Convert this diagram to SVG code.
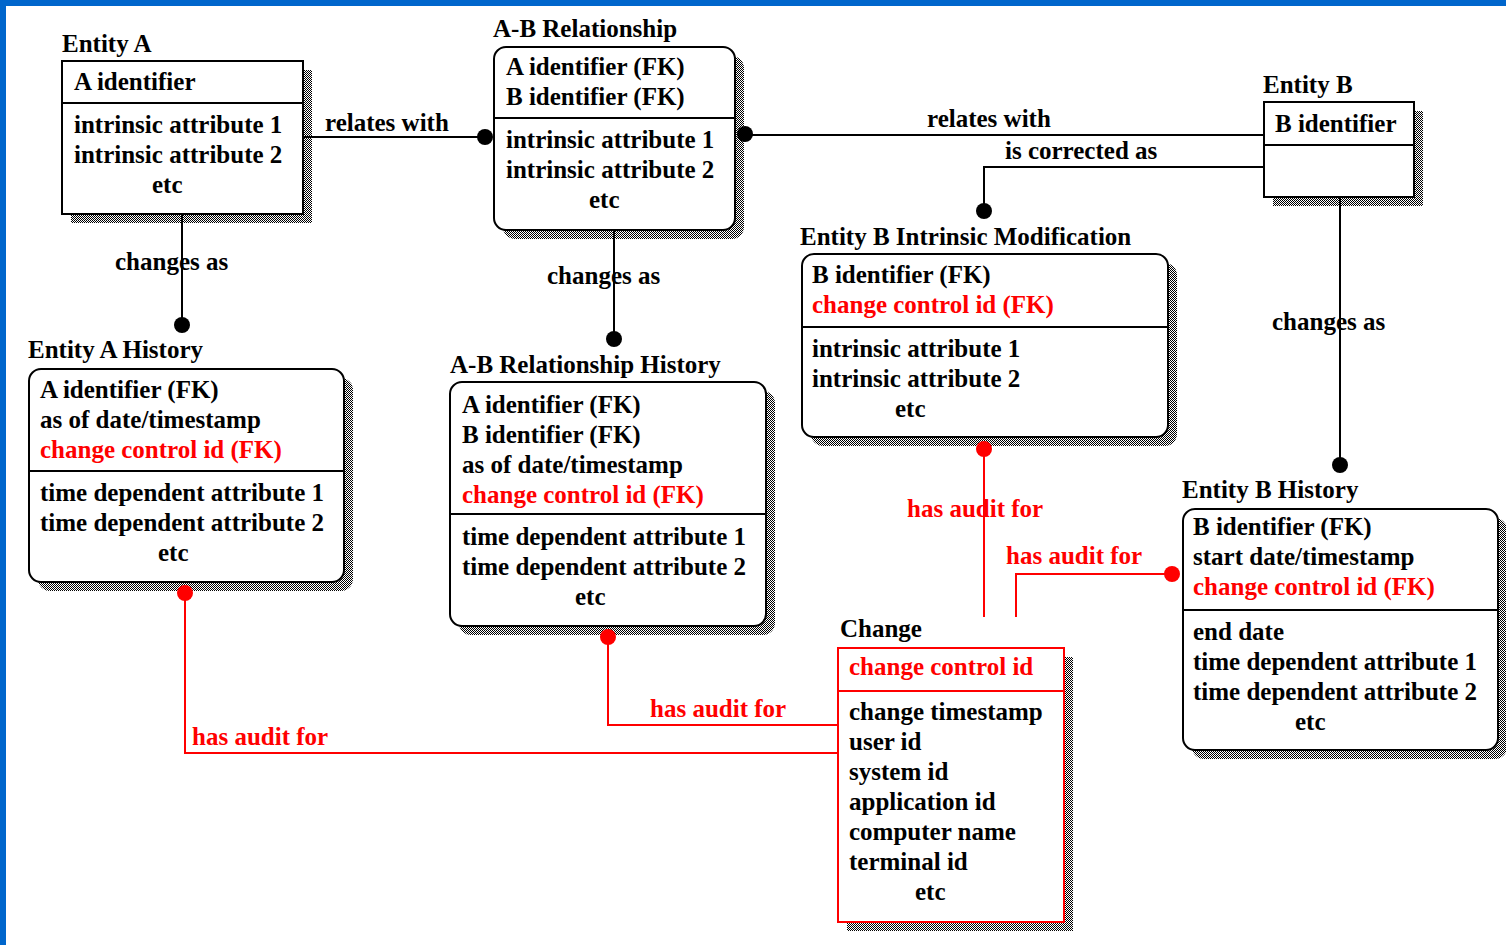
<svg xmlns="http://www.w3.org/2000/svg" width="1506" height="945" viewBox="0 0 1506 945" font-family="Liberation Serif" font-weight="bold" font-size="25">
  <defs>
    <!-- dithered drop shadow -->
    <pattern id="dither" width="2" height="2" patternUnits="userSpaceOnUse">
      <rect width="2" height="2" fill="#ffffff"/>
      <rect x="0" y="0" width="1" height="1" fill="#000000"/>
      <rect x="1" y="1" width="1" height="1" fill="#000000"/>
    </pattern>
    <style>
      text { fill: #000; }
      .red { fill: #ff0000; }
      .box { fill: #ffffff; stroke: #000; stroke-width: 2; }
      .rbox { fill: #ffffff; stroke: #ff0000; stroke-width: 2; }
      .shadow { fill: url(#dither); stroke: none; }
      .div { stroke: #000; stroke-width: 2; fill: none; }
      .rdiv { stroke: #ff0000; stroke-width: 2; fill: none; }
      .line { stroke: #000; stroke-width: 2; fill: none; }
      .rline { stroke: #ff0000; stroke-width: 2; fill: none; }
      .dot { fill: #000; }
      .rdot { fill: #ff0000; }
    </style>
  </defs>

  <!-- page background and frame -->
  <rect x="0" y="0" width="1506" height="945" fill="#ffffff"/>
  <rect x="0" y="0" width="1506" height="6" fill="#0066cc"/>
  <rect x="0" y="0" width="6" height="945" fill="#0066cc"/>

  <!-- Entity A -->
  <g id="entity-a">
    <text x="62" y="52">Entity A</text>
    <rect class="shadow" x="71" y="70" width="241" height="153"/>
    <rect class="box" x="62" y="61" width="241" height="153"/>
    <line class="div" x1="62" y1="103" x2="303" y2="103"/>
    <text x="74" y="90">A identifier</text>
    <text x="74" y="133">intrinsic attribute 1</text>
    <text x="74" y="163">intrinsic attribute 2</text>
    <text x="152" y="193">etc</text>
  </g>

  <!-- A-B Relationship -->
  <g id="ab-relationship">
    <text x="493" y="37">A-B Relationship</text>
    <rect class="shadow" x="503" y="56" width="241" height="183" rx="12"/>
    <rect class="box" x="494" y="47" width="241" height="183" rx="12"/>
    <line class="div" x1="494" y1="118" x2="735" y2="118"/>
    <text x="506" y="75">A identifier (FK)</text>
    <text x="506" y="105">B identifier (FK)</text>
    <text x="506" y="148">intrinsic attribute 1</text>
    <text x="506" y="178">intrinsic attribute 2</text>
    <text x="589" y="208">etc</text>
  </g>

  <!-- Entity B -->
  <g id="entity-b">
    <text x="1263" y="93">Entity B</text>
    <rect class="shadow" x="1273" y="111" width="150" height="95"/>
    <rect class="box" x="1264" y="102" width="150" height="95"/>
    <line class="div" x1="1264" y1="145" x2="1414" y2="145"/>
    <text x="1275" y="132">B identifier</text>
  </g>

  <!-- Entity B Intrinsic Modification -->
  <g id="entity-b-intrinsic-modification">
    <text x="800" y="245">Entity B Intrinsic Modification</text>
    <rect class="shadow" x="811" y="263" width="366" height="183" rx="12"/>
    <rect class="box" x="802" y="254" width="366" height="183" rx="12"/>
    <line class="div" x1="802" y1="327" x2="1168" y2="327"/>
    <text x="812" y="283">B identifier (FK)</text>
    <text class="red" x="812" y="313">change control id (FK)</text>
    <text x="812" y="357">intrinsic attribute 1</text>
    <text x="812" y="387">intrinsic attribute 2</text>
    <text x="895" y="417">etc</text>
  </g>

  <!-- Entity A History -->
  <g id="entity-a-history">
    <text x="28" y="358">Entity A History</text>
    <rect class="shadow" x="38" y="378" width="315" height="213" rx="12"/>
    <rect class="box" x="29" y="369" width="315" height="213" rx="12"/>
    <line class="div" x1="29" y1="471" x2="344" y2="471"/>
    <text x="40" y="398">A identifier (FK)</text>
    <text x="40" y="428">as of date/timestamp</text>
    <text class="red" x="40" y="458">change control id (FK)</text>
    <text x="40" y="501">time dependent attribute 1</text>
    <text x="40" y="531">time dependent attribute 2</text>
    <text x="158" y="561">etc</text>
  </g>

  <!-- A-B Relationship History -->
  <g id="ab-relationship-history">
    <text x="450" y="373">A-B Relationship History</text>
    <rect class="shadow" x="459" y="391" width="316" height="244" rx="12"/>
    <rect class="box" x="450" y="382" width="316" height="244" rx="12"/>
    <line class="div" x1="450" y1="514" x2="766" y2="514"/>
    <text x="462" y="413">A identifier (FK)</text>
    <text x="462" y="443">B identifier (FK)</text>
    <text x="462" y="473">as of date/timestamp</text>
    <text class="red" x="462" y="503">change control id (FK)</text>
    <text x="462" y="545">time dependent attribute 1</text>
    <text x="462" y="575">time dependent attribute 2</text>
    <text x="575" y="605">etc</text>
  </g>

  <!-- Entity B History -->
  <g id="entity-b-history">
    <text x="1182" y="498">Entity B History</text>
    <rect class="shadow" x="1192" y="518" width="315" height="241" rx="12"/>
    <rect class="box" x="1183" y="509" width="315" height="241" rx="12"/>
    <line class="div" x1="1183" y1="610" x2="1498" y2="610"/>
    <text x="1193" y="535">B identifier (FK)</text>
    <text x="1193" y="565">start date/timestamp</text>
    <text class="red" x="1193" y="595">change control id (FK)</text>
    <text x="1193" y="640">end date</text>
    <text x="1193" y="670">time dependent attribute 1</text>
    <text x="1193" y="700">time dependent attribute 2</text>
    <text x="1295" y="730">etc</text>
  </g>

  <!-- Change -->
  <g id="change">
    <text x="840" y="637">Change</text>
    <rect class="shadow" x="847" y="657" width="226" height="274"/>
    <rect class="rbox" x="838" y="648" width="226" height="274"/>
    <line class="rdiv" x1="838" y1="691" x2="1064" y2="691"/>
    <text class="red" x="849" y="675">change control id</text>
    <text x="849" y="720">change timestamp</text>
    <text x="849" y="750">user id</text>
    <text x="849" y="780">system id</text>
    <text x="849" y="810">application id</text>
    <text x="849" y="840">computer name</text>
    <text x="849" y="870">terminal id</text>
    <text x="915" y="900">etc</text>
  </g>

  <!-- relationships -->
  <g id="connectors">
    <text x="325" y="131">relates with</text>
    <path class="line" d="M303,137 H485"/>
    <circle class="dot" cx="485" cy="137" r="8"/>

    <text x="927" y="127">relates with</text>
    <path class="line" d="M745,135 H1264"/>
    <circle class="dot" cx="745" cy="134" r="8"/>

    <text x="1005" y="159">is corrected as</text>
    <path class="line" d="M1264,167 H984 V211"/>
    <circle class="dot" cx="984" cy="211" r="8"/>

    <text x="115" y="270">changes as</text>
    <path class="line" d="M182,214 V325"/>
    <circle class="dot" cx="182" cy="325" r="8"/>

    <text x="547" y="284">changes as</text>
    <path class="line" d="M614,230 V339"/>
    <circle class="dot" cx="614" cy="339" r="8"/>

    <text x="1272" y="330">changes as</text>
    <path class="line" d="M1340,197 V465"/>
    <circle class="dot" cx="1340" cy="465" r="8"/>

    <text class="red" x="192" y="745">has audit for</text>
    <path class="rline" d="M185,593 V753 H838"/>
    <circle class="rdot" cx="185" cy="593" r="8"/>

    <text class="red" x="650" y="717">has audit for</text>
    <path class="rline" d="M608,637 V725 H838"/>
    <circle class="rdot" cx="608" cy="637" r="8"/>

    <text class="red" x="907" y="517">has audit for</text>
    <path class="rline" d="M984,449 V617"/>
    <circle class="rdot" cx="984" cy="449" r="8"/>

    <text class="red" x="1006" y="564">has audit for</text>
    <path class="rline" d="M1172,574 H1016 V617"/>
    <circle class="rdot" cx="1172" cy="574" r="8"/>
  </g>
</svg>
